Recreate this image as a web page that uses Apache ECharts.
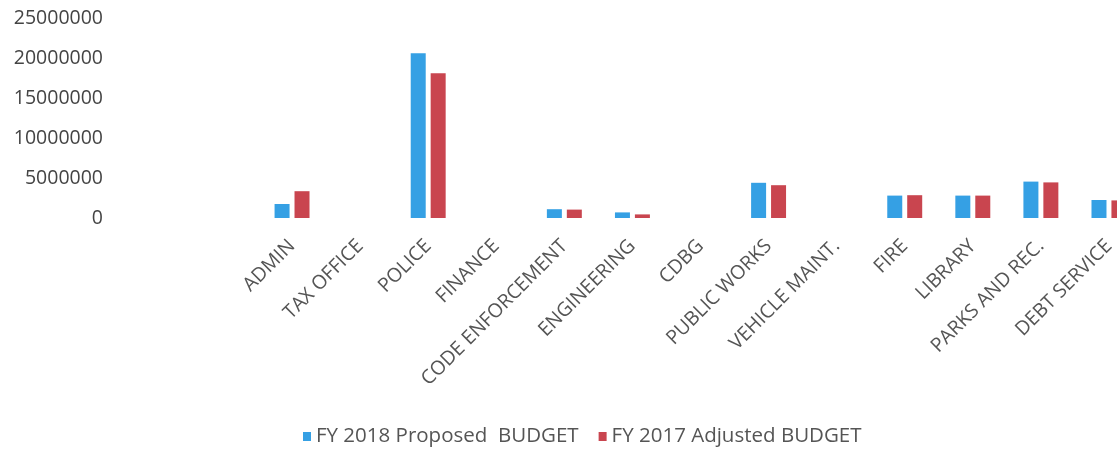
<!DOCTYPE html>
<html>
<head>
<meta charset="utf-8">
<script src="https://cdn.jsdelivr.net/npm/echarts@6/dist/echarts.min.js"></script>
<style>
  html, body { margin: 0; padding: 0; background: #fff; overflow: hidden; }
  #chart { width: 1145px; height: 450px; }
</style>
</head>
<body>
<div id="chart"></div>
<script>
// Department budgets, FY 2018 proposed vs FY 2017 adjusted
const departments = [
  'ADMIN', 'TAX OFFICE', 'POLICE', 'FINANCE', 'CODE ENFORCEMENT', 'ENGINEERING',
  'CDBG', 'PUBLIC WORKS', 'VEHICLE MAINT.', 'FIRE', 'LIBRARY', 'PARKS AND REC.', 'DEBT SERVICE'
];
const proposed2018 = [1750000, 0, 20600000, 0, 1100000, 700000, 0, 4400000, 0, 2800000, 2800000, 4550000, 2250000];
const adjusted2017 = [3350000, 0, 18100000, 0, 1050000, 450000, 0, 4100000, 0, 2850000, 2800000, 4450000, 2200000];
const seriesNames = ['FY 2018 Proposed  BUDGET', 'FY 2017 Adjusted BUDGET'];
const yTicks = { min: 0, max: 25000000, interval: 5000000 };

const font = '"Open Sans", "Liberation Sans", sans-serif';
const chart = echarts.init(document.getElementById('chart'), null, { renderer: 'canvas' });

chart.setOption({
  animation: false,
  backgroundColor: '#ffffff',
  textStyle: { fontFamily: font },
  grid: { left: 258, top: 18, right: 2, height: 200, containLabel: false },
  legend: {
    bottom: -2,
    left: 298,
    itemWidth: 8,
    itemHeight: 9,
    itemGap: 20,
    icon: 'rect',
    textStyle: { fontFamily: font, fontSize: 20.5, color: '#555' },
    data: seriesNames
  },
  xAxis: {
    type: 'category',
    data: departments,
    axisLine: { show: false },
    axisTick: { show: false },
    axisLabel: {
      rotate: 45,
      interval: 0,
      margin: 25,
      fontFamily: font,
      fontSize: 19.5,
      color: '#555'
    }
  },
  yAxis: {
    type: 'value',
    min: yTicks.min,
    max: yTicks.max,
    interval: yTicks.interval,
    splitLine: { show: false },
    axisLine: { show: false },
    axisTick: { show: false },
    axisLabel: {
      margin: 155,
      fontFamily: font,
      fontSize: 19.5,
      color: '#444',
      formatter: (v) => String(v)
    }
  },
  series: [
    {
      name: seriesNames[0],
      type: 'bar',
      data: proposed2018,
      barWidth: 15,
      barGap: '33%',
      itemStyle: { color: '#35A0E4' }
    },
    {
      name: seriesNames[1],
      type: 'bar',
      data: adjusted2017,
      barWidth: 15,
      itemStyle: { color: '#C9454F' }
    }
  ]
});
</script>
</body>
</html>
